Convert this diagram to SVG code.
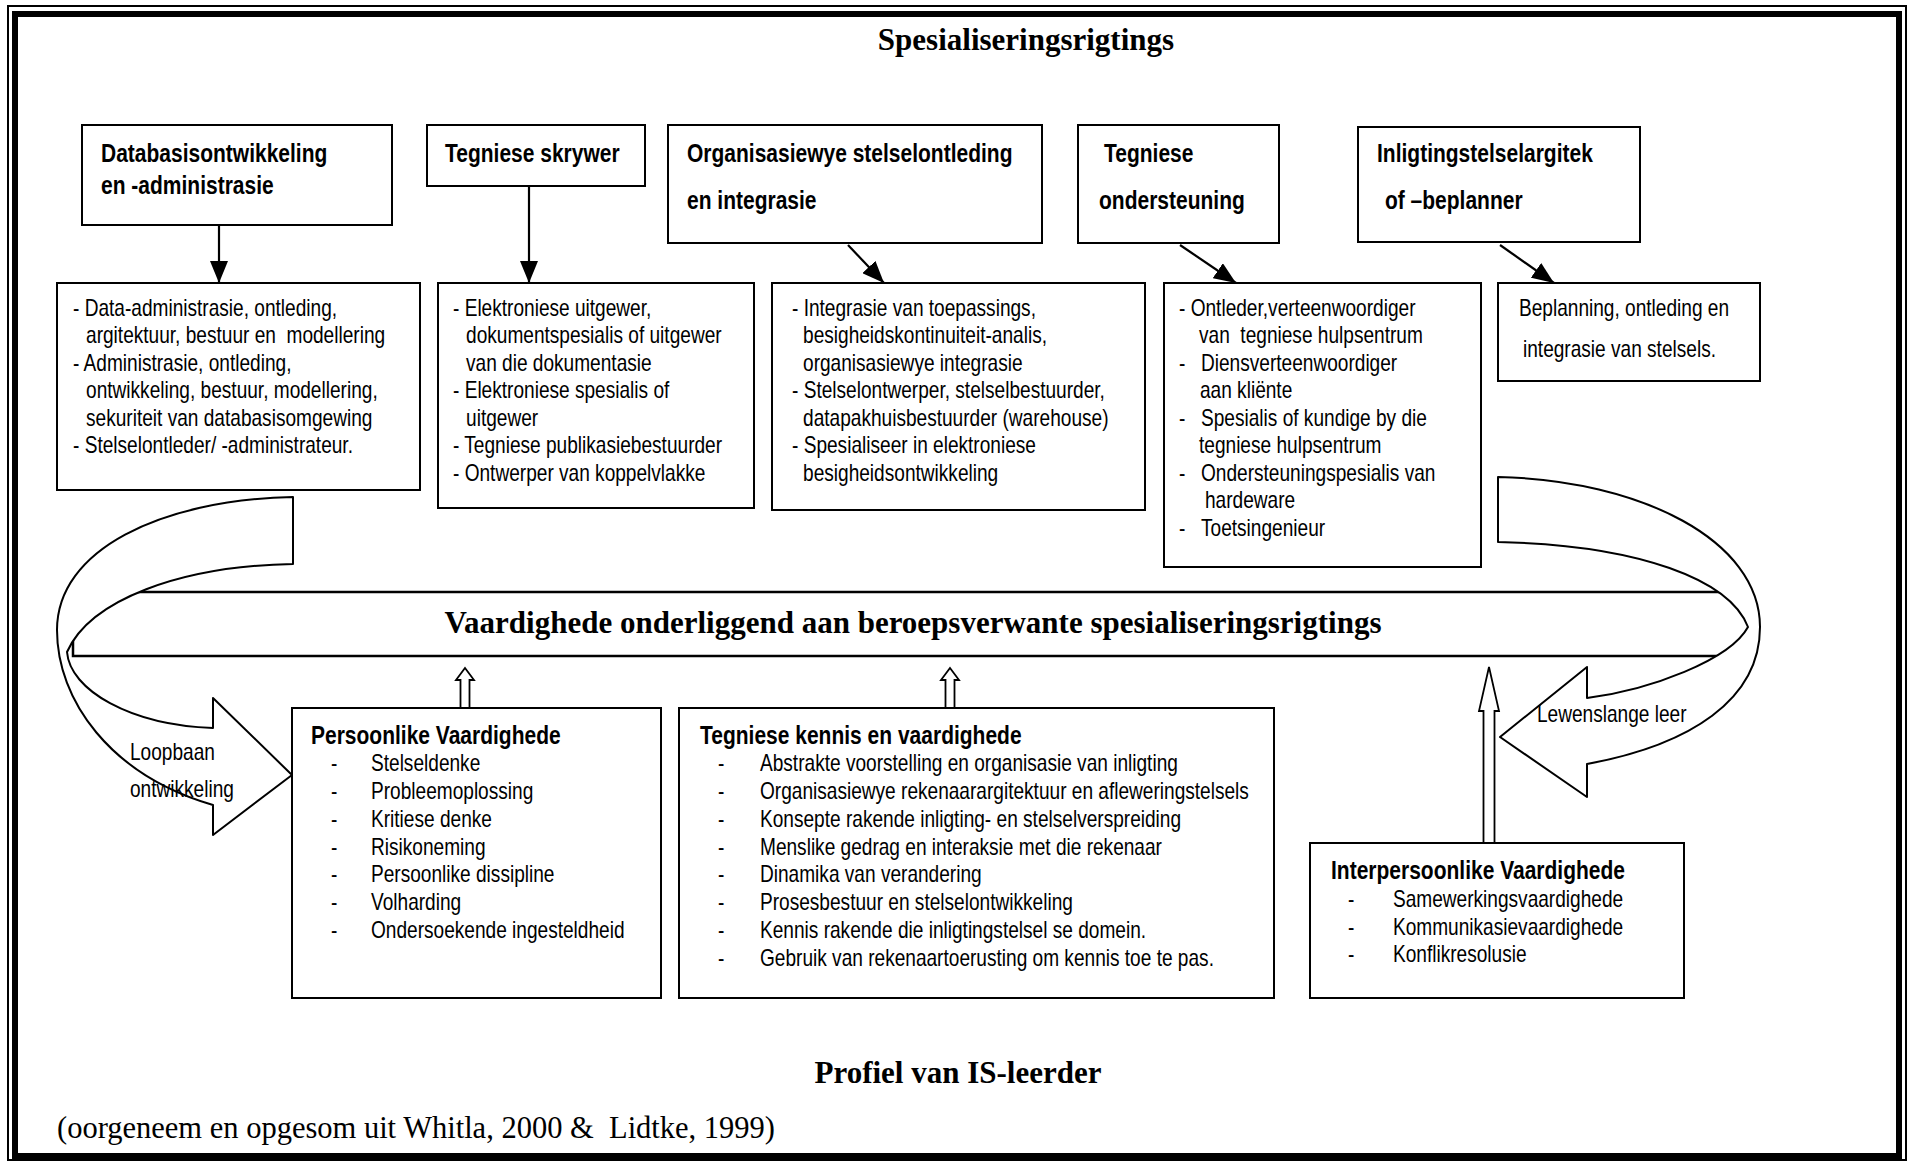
<svg xmlns="http://www.w3.org/2000/svg" width="1908" height="1162" viewBox="0 0 1908 1162">
<defs>
<style>
.bx{fill:#fff;stroke:#000;stroke-width:2}
.hd{font-family:"Liberation Sans",Arial,sans-serif;font-weight:bold;font-size:25px;fill:#000}
.tx{font-family:"Liberation Sans",Arial,sans-serif;font-size:23px;fill:#000}
.sb{font-family:"Liberation Serif","Times New Roman",serif;font-weight:bold;font-size:31px;fill:#000}
.sr{font-family:"Liberation Serif","Times New Roman",serif;font-size:30.5px;fill:#000}
.ln{fill:none;stroke:#000;stroke-width:2.2}
.bl{fill:none;stroke:#000;stroke-width:2.5}
.rb{fill:#fff;stroke:#000;stroke-width:2;stroke-linejoin:round}
.ha{fill:#fff;stroke:#000;stroke-width:1.8}
</style>
<marker id="ah" markerUnits="userSpaceOnUse" viewBox="0 0 22 18" refX="22" refY="9" markerWidth="22" markerHeight="18" orient="auto">
<path d="M0,0 L22,9 L0,18 Z" fill="#000"/>
</marker>
</defs>
<rect width="1908" height="1162" fill="#fff"/>
<rect x="8" y="6" width="1898" height="1154" fill="none" stroke="#000" stroke-width="2"/>
<rect x="15" y="14" width="1884" height="1142" fill="none" stroke="#000" stroke-width="6"/>

<text class="sb" x="1026" y="50" text-anchor="middle">Spesialiseringsrigtings</text>

<g id="hdr-db"><rect class="bx" x="82" y="125" width="310" height="100"/>
<text class="hd" transform="translate(101,0) scale(.84,1)"><tspan x="0" y="162">Databasisontwikkeling</tspan><tspan x="0" y="194">en -administrasie</tspan></text></g>
<g id="hdr-ts"><rect class="bx" x="427" y="125" width="218" height="61"/>
<text class="hd" transform="translate(445,0) scale(.84,1)" x="0" y="162">Tegniese skrywer</text></g>
<g id="hdr-os"><rect class="bx" x="668" y="125" width="374" height="118"/>
<text class="hd" transform="translate(687,0) scale(.84,1)"><tspan x="0" y="162">Organisasiewye stelselontleding</tspan><tspan x="0" y="209">en integrasie</tspan></text></g>
<g id="hdr-to"><rect class="bx" x="1078" y="125" width="201" height="118"/>
<text class="hd" transform="translate(1099,0) scale(.84,1)"><tspan x="6" y="162">Tegniese</tspan><tspan x="0" y="209">ondersteuning</tspan></text></g>
<g id="hdr-ia"><rect class="bx" x="1358" y="127" width="282" height="115"/>
<text class="hd" transform="translate(1377,0) scale(.84,1)"><tspan x="0" y="162">Inligtingstelselargitek</tspan><tspan x="9.5" y="209">of –beplanner</tspan></text></g>

<g id="det-db"><rect class="bx" x="57" y="283" width="363" height="207"/>
<text class="tx" xml:space="preserve" transform="translate(73,0) scale(.83,1)"><tspan x="0" y="316">- Data-administrasie, ontleding,</tspan><tspan x="15.7" y="343.5">argitektuur, bestuur en  modellering</tspan><tspan x="0" y="371">- Administrasie, ontleding,</tspan><tspan x="15.7" y="398.5">ontwikkeling, bestuur, modellering,</tspan><tspan x="15.7" y="426">sekuriteit van databasisomgewing</tspan><tspan x="0" y="453.5">- Stelselontleder/ -administrateur.</tspan></text></g>
<g id="det-ts"><rect class="bx" x="438" y="283" width="316" height="225"/>
<text class="tx" transform="translate(453,0) scale(.83,1)"><tspan x="0" y="316">- Elektroniese uitgewer,</tspan><tspan x="15.7" y="343.5">dokumentspesialis of uitgewer</tspan><tspan x="15.7" y="371">van die dokumentasie</tspan><tspan x="0" y="398.5">- Elektroniese spesialis of</tspan><tspan x="15.7" y="426">uitgewer</tspan><tspan x="0" y="453.5">- Tegniese publikasiebestuurder</tspan><tspan x="0" y="481">- Ontwerper van koppelvlakke</tspan></text></g>
<g id="det-os"><rect class="bx" x="772" y="283" width="373" height="227"/>
<text class="tx" transform="translate(792,0) scale(.83,1)"><tspan x="0" y="316">- Integrasie van toepassings,</tspan><tspan x="13.3" y="343.5">besigheidskontinuiteit-analis,</tspan><tspan x="13.3" y="371">organisasiewye integrasie</tspan><tspan x="0" y="398.5">- Stelselontwerper, stelselbestuurder,</tspan><tspan x="13.3" y="426">datapakhuisbestuurder (warehouse)</tspan><tspan x="0" y="453.5">- Spesialiseer in elektroniese</tspan><tspan x="13.3" y="481">besigheidsontwikkeling</tspan></text></g>
<g id="det-to"><rect class="bx" x="1164" y="283" width="317" height="284"/>
<text class="tx" xml:space="preserve" transform="translate(1179,0) scale(.83,1)"><tspan x="0" y="316">- Ontleder,verteenwoordiger</tspan><tspan x="24.1" y="343.5">van  tegniese hulpsentrum</tspan><tspan x="0" y="371">-</tspan><tspan x="26.5" y="371">Diensverteenwoordiger</tspan><tspan x="25.3" y="398.5">aan kliënte</tspan><tspan x="0" y="426">-</tspan><tspan x="26.5" y="426">Spesialis of kundige by die</tspan><tspan x="24.1" y="453.5">tegniese hulpsentrum</tspan><tspan x="0" y="481">-</tspan><tspan x="26.5" y="481">Ondersteuningspesialis van</tspan><tspan x="31.3" y="508.5">hardeware</tspan><tspan x="0" y="536">-</tspan><tspan x="26.5" y="536">Toetsingenieur</tspan></text></g>
<g id="det-ia"><rect class="bx" x="1498" y="283" width="262" height="98"/>
<text class="tx" transform="translate(1519,0) scale(.83,1)"><tspan x="0" y="316">Beplanning, ontleding en</tspan><tspan x="4.8" y="357">integrasie van stelsels.</tspan></text></g>

<g id="connectors">
<line class="ln" x1="219" y1="225" x2="219" y2="283" marker-end="url(#ah)"/>
<line class="ln" x1="529" y1="186" x2="529" y2="283" marker-end="url(#ah)"/>
<line class="ln" x1="848" y1="245" x2="884" y2="283" marker-end="url(#ah)"/>
<line class="ln" x1="1180" y1="245" x2="1236" y2="283" marker-end="url(#ah)"/>
<line class="ln" x1="1500" y1="245" x2="1554" y2="283" marker-end="url(#ah)"/>
<path class="ha" d="M465,668 L474,680 L469.5,680 L469.5,708 L460.5,708 L460.5,680 L456,680 Z"/>
<path class="ha" d="M950,668 L959,680 L954.5,680 L954.5,708 L945.5,708 L945.5,680 L941,680 Z"/>
<path class="ha" d="M1489,667 L1499,711 L1494.5,711 L1494.5,843 L1483.5,843 L1483.5,711 L1479,711 Z"/>
</g>

<g id="banner"><rect x="73" y="592" width="1667" height="64" fill="#fff"/>
<path class="bl" d="M1740,592 H73 V656 H1740"/>
<text class="sb" x="913" y="633" text-anchor="middle">Vaardighede onderliggend aan beroepsverwante spesialiseringsrigtings</text></g>

<g id="arrow-loopbaan">
<path class="rb" d="M293,497 C160,500 57,550 57,630 C57,700 110,775 213,805 L213,835 L292,775 L213,698 L213,728 C130,725 70,690 67,652 C90,600 180,566 293,564 Z"/>
<text class="tx" transform="translate(130,0) scale(.83,1)"><tspan x="0" y="760">Loopbaan</tspan><tspan x="0" y="797">ontwikkeling</tspan></text></g>
<g id="arrow-lewenslang">
<path class="rb" d="M1498,477 C1640,480 1760,540 1760,627 C1760,700 1690,745 1587,764 L1587,797 L1500,737 L1587,667 L1587,698 C1650,690 1730,660 1748,627 C1730,580 1640,545 1498,542 Z"/>
<text class="tx" transform="translate(1537,0) scale(.83,1)" x="0" y="722">Lewenslange leer</text></g>

<g id="persoonlik"><rect class="bx" x="292" y="708" width="369" height="290"/>
<text class="hd" transform="translate(311,0) scale(.84,1)" x="0" y="744">Persoonlike Vaardighede</text>
<text class="tx" transform="translate(331,0) scale(.83,1)"><tspan x="0" y="771">-</tspan><tspan x="48.2" y="771">Stelseldenke</tspan><tspan x="0" y="799">-</tspan><tspan x="48.2" y="799">Probleemoplossing</tspan><tspan x="0" y="827">-</tspan><tspan x="48.2" y="827">Kritiese denke</tspan><tspan x="0" y="855">-</tspan><tspan x="48.2" y="855">Risikoneming</tspan><tspan x="0" y="882">-</tspan><tspan x="48.2" y="882">Persoonlike dissipline</tspan><tspan x="0" y="910">-</tspan><tspan x="48.2" y="910">Volharding</tspan><tspan x="0" y="938">-</tspan><tspan x="48.2" y="938">Ondersoekende ingesteldheid</tspan></text></g>
<g id="tegnies"><rect class="bx" x="679" y="708" width="595" height="290"/>
<text class="hd" transform="translate(700,0) scale(.84,1)" x="0" y="744">Tegniese kennis en vaardighede</text>
<text class="tx" transform="translate(718,0) scale(.83,1)"><tspan x="0" y="771">-</tspan><tspan x="50.6" y="771">Abstrakte voorstelling en organisasie van inligting</tspan><tspan x="0" y="799">-</tspan><tspan x="50.6" y="799">Organisasiewye rekenaarargitektuur en afleweringstelsels</tspan><tspan x="0" y="827">-</tspan><tspan x="50.6" y="827">Konsepte rakende inligting- en stelselverspreiding</tspan><tspan x="0" y="855">-</tspan><tspan x="50.6" y="855">Menslike gedrag en interaksie met die rekenaar</tspan><tspan x="0" y="882">-</tspan><tspan x="50.6" y="882">Dinamika van verandering</tspan><tspan x="0" y="910">-</tspan><tspan x="50.6" y="910">Prosesbestuur en stelselontwikkeling</tspan><tspan x="0" y="938">-</tspan><tspan x="50.6" y="938">Kennis rakende die inligtingstelsel se domein.</tspan><tspan x="0" y="966">-</tspan><tspan x="50.6" y="966">Gebruik van rekenaartoerusting om kennis toe te pas.</tspan></text></g>
<g id="interpersoonlik"><rect class="bx" x="1310" y="843" width="374" height="155"/>
<text class="hd" transform="translate(1331,0) scale(.84,1)" x="0" y="879">Interpersoonlike Vaardighede</text>
<text class="tx" transform="translate(1348,0) scale(.83,1)"><tspan x="0" y="907">-</tspan><tspan x="54.2" y="907">Samewerkingsvaardighede</tspan><tspan x="0" y="935">-</tspan><tspan x="54.2" y="935">Kommunikasievaardighede</tspan><tspan x="0" y="962">-</tspan><tspan x="54.2" y="962">Konflikresolusie</tspan></text></g>

<text class="sb" x="958" y="1083" text-anchor="middle">Profiel van IS-leerder</text>
<text class="sr" xml:space="preserve" x="57" y="1138">(oorgeneem en opgesom uit Whitla, 2000 &amp;  Lidtke, 1999)</text>
</svg>
